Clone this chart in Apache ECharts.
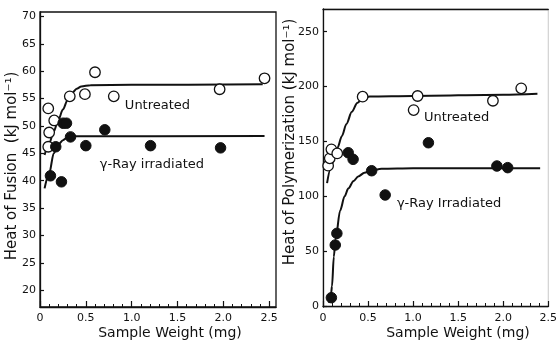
<!DOCTYPE html>
<html><head><meta charset="utf-8">
<script src="https://cdn.jsdelivr.net/npm/echarts@6/dist/echarts.min.js"></script>
<style>html,body{margin:0;padding:0;background:#fff}#c{width:560px;height:342px}</style>
</head><body><div id="c"></div>
<script>
// ---- data ----
const xMajorTicks = [0, 0.5, 1.0, 1.5, 2.0, 2.5];
const xMinorTicks = [0,0.1,0.2,0.3,0.4,0.5,0.6,0.7,0.8,0.9,1.0,1.1,1.2,1.3,1.4,1.5,1.6,1.7,1.8,1.9,2.0,2.1,2.2,2.3,2.4,2.5];
const fusionYTicks = [20,25,30,35,40,45,50,55,60,65,70];
const polyYTicks = [0,50,100,150,200,250];

const fusionUntreated = [[0.09,53.2],[0.10,48.8],[0.09,46.2],[0.155,51.0],[0.325,55.4],[0.49,55.8],[0.60,59.8],[0.805,55.4],[1.96,56.7],[2.45,58.7]];
const fusionIrradiated = [[0.114,40.9],[0.234,39.8],[0.172,46.2],[0.252,50.5],[0.289,50.5],[0.333,48.0],[0.50,46.4],[0.707,49.3],[1.206,46.4],[1.97,46.0]];
const fusionUntreatedFit = [[0.05,44.7],[0.1,46.8],[0.15,49.0],[0.2,51.1],[0.25,53.0],[0.3,54.7],[0.35,56.0],[0.4,56.8],[0.45,57.2],[0.55,57.45],[1.0,57.5],[2.43,57.6]];
const fusionIrradiatedFit = [[0.05,38.6],[0.1,41.3],[0.15,45.0],[0.2,46.6],[0.25,47.4],[0.3,47.9],[0.35,48.1],[2.45,48.15]];

const polyUntreated = [[0.057,127.9],[0.075,134.6],[0.093,142.8],[0.158,139.1],[0.44,190.8],[1.006,178.6],[1.05,191.4],[1.886,187.1],[2.20,198.4]];
const polyIrradiated = [[0.093,7.6],[0.136,55.6],[0.154,66.2],[0.28,139.7],[0.334,133.7],[0.54,123.3],[0.69,101.2],[1.17,148.8],[1.93,127.6],[2.05,126.1]];
const polyUntreatedFit = [[0.045,112],[0.08,124],[0.12,134],[0.16,144],[0.21,155],[0.26,166],[0.32,177],[0.38,185],[0.44,189.5],[0.52,191],[1.0,191.5],[2.0,192.5],[2.38,193.5]];
const polyIrradiatedFit = [[0.065,3],[0.09,12],[0.1,18],[0.12,45],[0.14,61],[0.19,87],[0.24,100],[0.28,107],[0.34,114],[0.39,118],[0.46,121.5],[0.53,123.5],[0.65,125],[1.0,125.5],[2.41,125.5]];

const labelsFusion = [{pos:[0.926,53.8], text:'Untreated'}, {pos:[0.653,42.9], text:'γ-Ray irradiated'}];
const labelsPoly = [{pos:[1.12,172], text:'Untreated'}, {pos:[0.82,93.6], text:'γ-Ray Irradiated'}];

const xTitle = 'Sample Weight (mg)';
const yTitleFusion = 'Heat of Fusion  (kJ mol⁻¹)';
const yTitlePoly = 'Heat of Polymerization (kJ mol⁻¹)';

// ---- chart ----
const INK = '#111111';
const FONT = 'DejaVu Sans';
const chart = echarts.init(document.getElementById('c'), null, {renderer:'canvas'});

function xAxes(gridIndex, max) {
  return [
    { type:'value', gridIndex, min:0, max, position:'bottom',
      axisLine:{show:true, lineStyle:{color:INK, width:1.3}},
      axisTick:{show:true, inside:true, length:3, customValues:xMinorTicks, lineStyle:{color:INK, width:1}},
      axisLabel:{show:true, customValues:xMajorTicks, margin:6, color:INK, fontFamily:FONT, fontSize:11,
        formatter: v => v === 0 ? '0' : v.toFixed(1)},
      splitLine:{show:false} },
    { type:'value', gridIndex, min:0, max, position:'bottom',
      axisLine:{show:false},
      axisTick:{show:true, inside:true, length:6, customValues:xMajorTicks, lineStyle:{color:INK, width:1.2}},
      axisLabel:{show:false}, splitLine:{show:false} }
  ];
}
function yAxis(gridIndex, min, max, ticks) {
  return { type:'value', gridIndex, min, max,
    axisLine:{show:true, lineStyle:{color:INK, width:1.3}},
    axisTick:{show:true, inside:true, length:4, customValues:ticks, lineStyle:{color:INK, width:1.2}},
    axisLabel:{show:true, customValues:ticks, margin:4, color:INK, fontFamily:FONT, fontSize:11},
    splitLine:{show:false} };
}
function scatter(xi, yi, data, open) {
  return { type:'scatter', xAxisIndex:xi, yAxisIndex:yi, data, symbol:'circle', symbolSize:10.5, z:5,
    itemStyle: open ? {color:'#fff', borderColor:INK, borderWidth:1.3, opacity:1} : {color:INK, borderColor:INK, borderWidth:1, opacity:1},
    silent:true };
}
function fit(xi, yi, data) {
  return { type:'line', xAxisIndex:xi, yAxisIndex:yi, data, showSymbol:false, smooth:0.3, smoothMonotone:'x',
    lineStyle:{color:INK, width:2}, z:3, silent:true };
}
function textLabels(xi, yi, items) {
  return { type:'scatter', xAxisIndex:xi, yAxisIndex:yi, symbolSize:0, z:6, silent:true,
    itemStyle:{opacity:1},
    data: items.map(it => ({value: it.pos, label:{formatter: it.text}})),
    label:{show:true, position:'right', distance:0, color:INK, fontFamily:FONT, fontSize:13, opacity:1} };
}

const topAxisRight = { type:'value', gridIndex:1, min:0, max:2.5, position:'top',
  axisLine:{show:true, lineStyle:{color:INK, width:1.3}}, axisTick:{show:false}, axisLabel:{show:false}, splitLine:{show:false} };

chart.setOption({
  backgroundColor:'#fff',
  animation:false,
  grid:[
    {left:40, top:12, width:236, height:295, show:true, borderColor:INK, borderWidth:1.3, backgroundColor:'transparent'},
    {left:323, top:9, width:233, height:298, show:true, borderColor:'#c8c8c8', borderWidth:1, backgroundColor:'transparent'}
  ],
  xAxis:[...xAxes(0, 2.575), ...xAxes(1, 2.5), topAxisRight],
  yAxis:[yAxis(0, 16.95, 70.8, fusionYTicks), yAxis(1, -0.9, 270.7, polyYTicks)],
  series:[
    fit(0,0,fusionUntreatedFit), fit(0,0,fusionIrradiatedFit),
    scatter(0,0,fusionUntreated,true), scatter(0,0,fusionIrradiated,false),
    textLabels(0,0,labelsFusion),
    fit(2,1,polyUntreatedFit), fit(2,1,polyIrradiatedFit),
    scatter(2,1,polyUntreated,true), scatter(2,1,polyIrradiated,false),
    textLabels(2,1,labelsPoly)
  ],
  graphic:[
    {type:'text', x:170, y:333, style:{text:xTitle, font:'14px "DejaVu Sans"', fill:INK, align:'center', verticalAlign:'middle'}},
    {type:'text', x:458, y:333, style:{text:xTitle, font:'14px "DejaVu Sans"', fill:INK, align:'center', verticalAlign:'middle'}},
    {type:'text', x:12, y:166, rotation:Math.PI/2, style:{text:yTitleFusion, font:'15px "DejaVu Sans"', fill:INK, align:'center', verticalAlign:'middle'}},
    {type:'text', x:290, y:142, rotation:Math.PI/2, style:{text:yTitlePoly, font:'15px "DejaVu Sans"', fill:INK, align:'center', verticalAlign:'middle'}}
  ]
});
</script></body></html>
